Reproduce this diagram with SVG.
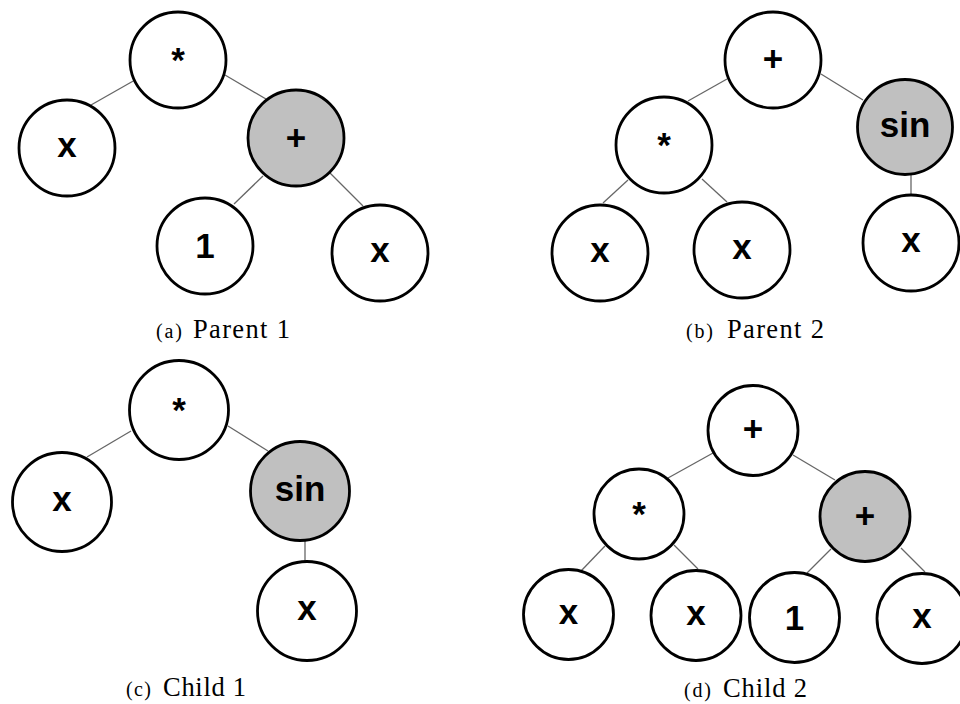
<svg xmlns="http://www.w3.org/2000/svg" width="960" height="704" viewBox="0 0 960 704">
  <style>
    .node { fill: #ffffff; stroke: #000000; stroke-width: 2.8; }
    .hl { fill: #c0c0c0; }
    .lbl { font-family: "Liberation Sans", Arial, sans-serif; font-weight: bold; font-size: 35px; fill: #000000; text-anchor: middle; }
    .edge { stroke: #666666; stroke-width: 1.3; fill: none; }
    .cap { font-family: "Liberation Serif", "Times New Roman", serif; fill: #000000; }
  </style>
  <rect width="960" height="704" fill="#ffffff"/>

  <!-- tree edges -->
  <g id="connectors">
    <!-- (a) -->
    <line class="edge" x1="135" y1="80" x2="91" y2="105"/>
    <line class="edge" x1="225" y1="75" x2="266" y2="99"/>
    <line class="edge" x1="263" y1="176" x2="234" y2="204"/>
    <line class="edge" x1="330" y1="173" x2="363" y2="206"/>
    <!-- (b) -->
    <line class="edge" x1="727" y1="79" x2="688" y2="101"/>
    <line class="edge" x1="821" y1="74" x2="863" y2="100"/>
    <line class="edge" x1="628" y1="180" x2="603" y2="203"/>
    <line class="edge" x1="702" y1="179" x2="727" y2="202"/>
    <line class="edge" x1="911" y1="175" x2="911" y2="195"/>
    <!-- (c) -->
    <line class="edge" x1="131" y1="431" x2="87" y2="457"/>
    <line class="edge" x1="228" y1="426" x2="268" y2="451"/>
    <line class="edge" x1="305" y1="541" x2="305" y2="561"/>
    <!-- (d) -->
    <line class="edge" x1="713" y1="453" x2="668" y2="478"/>
    <line class="edge" x1="793" y1="455" x2="835" y2="480"/>
    <line class="edge" x1="605" y1="546" x2="581" y2="571"/>
    <line class="edge" x1="674" y1="545" x2="698" y2="569"/>
    <line class="edge" x1="831" y1="549" x2="807" y2="573"/>
    <line class="edge" x1="901" y1="548" x2="925" y2="572"/>
  </g>

  <!-- (a) Parent 1 -->
  <g id="a-mul"><circle class="node" cx="178" cy="60" r="48"/><text class="lbl" x="178" y="72">*</text></g>
  <g id="a-x1"><circle class="node" cx="67" cy="148" r="48"/><text class="lbl" x="67" y="157">x</text></g>
  <g id="a-add"><circle class="node hl" cx="296" cy="138" r="48"/><text class="lbl" x="296" y="150">+</text></g>
  <g id="a-one"><circle class="node" cx="205" cy="246" r="48"/><text class="lbl" x="205" y="258">1</text></g>
  <g id="a-x2"><circle class="node" cx="380" cy="253" r="48"/><text class="lbl" x="380" y="262">x</text></g>
  <text class="cap" y="338"><tspan font-size="20" x="156" textLength="26">(a)</tspan><tspan font-size="26.5" x="193" textLength="97">Parent 1</tspan></text>

  <!-- (b) Parent 2 -->
  <g id="b-add"><circle class="node" cx="773" cy="60" r="48"/><text class="lbl" x="773" y="71">+</text></g>
  <g id="b-mul"><circle class="node" cx="664" cy="145" r="48"/><text class="lbl" x="664" y="157">*</text></g>
  <g id="b-sin"><circle class="node hl" cx="905" cy="127" r="47.5"/><text class="lbl" x="905" y="137">sin</text></g>
  <g id="b-x1"><circle class="node" cx="600" cy="253" r="48"/><text class="lbl" x="600" y="262">x</text></g>
  <g id="b-x2"><circle class="node" cx="742" cy="250" r="48"/><text class="lbl" x="742" y="259">x</text></g>
  <g id="b-x3"><circle class="node" cx="911" cy="243" r="48"/><text class="lbl" x="911" y="252">x</text></g>
  <text class="cap" y="338"><tspan font-size="20" x="686" textLength="27">(b)</tspan><tspan font-size="26.5" x="727" textLength="97">Parent 2</tspan></text>

  <!-- (c) Child 1 -->
  <g id="c-mul"><circle class="node" cx="179" cy="410" r="49.5"/><text class="lbl" x="179" y="422">*</text></g>
  <g id="c-x1"><circle class="node" cx="62" cy="502" r="49.5"/><text class="lbl" x="62" y="511">x</text></g>
  <g id="c-sin"><circle class="node hl" cx="300" cy="491" r="49.5"/><text class="lbl" x="300" y="501">sin</text></g>
  <g id="c-x2"><circle class="node" cx="307" cy="611" r="49.5"/><text class="lbl" x="307" y="620">x</text></g>
  <text class="cap" y="696"><tspan font-size="20" x="126" textLength="25">(c)</tspan><tspan font-size="26.5" x="163" textLength="83">Child 1</tspan></text>

  <!-- (d) Child 2 -->
  <g id="d-add"><circle class="node" cx="753" cy="430.5" r="45"/><text class="lbl" x="753" y="441">+</text></g>
  <g id="d-mul"><circle class="node" cx="639" cy="514" r="45"/><text class="lbl" x="639" y="526">*</text></g>
  <g id="d-add2"><circle class="node hl" cx="865" cy="516.5" r="45"/><text class="lbl" x="865" y="528">+</text></g>
  <g id="d-x1"><circle class="node" cx="568.5" cy="614.5" r="45"/><text class="lbl" x="568.5" y="623.5">x</text></g>
  <g id="d-x2"><circle class="node" cx="696" cy="615.5" r="45"/><text class="lbl" x="696" y="624.5">x</text></g>
  <g id="d-one"><circle class="node" cx="794.5" cy="617.5" r="45"/><text class="lbl" x="794.5" y="629.5">1</text></g>
  <g id="d-x3"><circle class="node" cx="922" cy="618.5" r="45"/><text class="lbl" x="922" y="627.5">x</text></g>
  <text class="cap" y="697"><tspan font-size="20" x="684" textLength="27">(d)</tspan><tspan font-size="26.5" x="723" textLength="84">Child 2</tspan></text>
</svg>
